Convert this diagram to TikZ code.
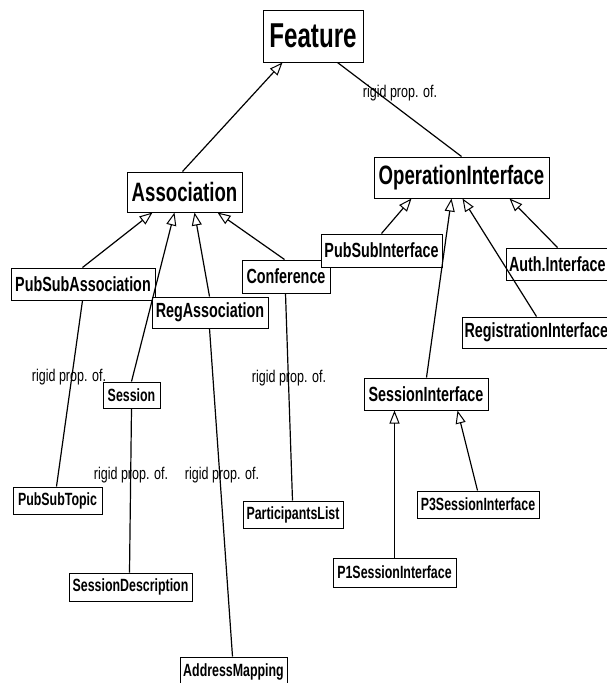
\documentclass[tikz,border=0pt]{standalone}
\usepackage{fontspec}
\setmainfont{Liberation Sans}
\newfontfamily\narrowbold{Liberation Sans}[FakeStretch=0.70]
\newfontfamily\narrowreg{Liberation Sans}[FakeStretch=0.735]
\usetikzlibrary{arrows.meta}

\tikzset{
  box/.style 2 args={draw, line width=1pt, fill=white, inner sep=0pt,
    minimum width=#1, minimum height=#2},
  hugetext/.style={font=\narrowbold\bfseries\fontsize{34.5}{40}\selectfont},
  bigtext/.style={font=\narrowbold\bfseries\fontsize{26.6}{31}\selectfont},
  midtext/.style={font=\narrowbold\bfseries\fontsize{20.5}{24}\selectfont},
  smalltext/.style={font=\narrowbold\bfseries\fontsize{17.7}{21}\selectfont},
  rolelabel/.style={font=\narrowreg\fontsize{17}{20}\selectfont, inner sep=0pt},
  isa/.style={line width=1.2pt, -{Triangle[open, length=13pt, width=10pt, line width=1pt]}},
  rigid/.style={line width=1.2pt},
}

\begin{document}
\begin{tikzpicture}[x=1pt, y=-1pt]
  \fill[white] (0,0) rectangle (607,683);
  \useasboundingbox (0,0) rectangle (607,683);

  % classes
  \node[box={100}{52}, hugetext] (feature) at (313,36) {Feature};
  \node[box={115}{40}, bigtext] (assoc) at (184.5,192) {Association};
  \node[box={175}{41}, bigtext] (opint) at (461.5,177.5) {OperationInterface};

  \node[box={144}{32}, midtext] (psa) at (83,284) {PubSubAssociation};
  \node[box={116}{31}, midtext] (reg) at (210,312.5) {RegAssociation};
  \node[box={88}{33}, midtext] (conf) at (286,276.5) {Conference};
  \node[box={121}{33}, midtext] (psi) at (381.5,250.5) {PubSubInterface};
  \node[box={103}{32}, midtext, text width=97pt, align=left] (auth) at (557.5,264) {Auth.Interface};
  \node[box={150}{31}, midtext, text width=145pt, align=left] (regint) at (537,332.5) {RegistrationInterface};
  \node[box={124}{32}, midtext] (sessint) at (426,394) {SessionInterface};

  \node[box={57}{26}, smalltext] (session) at (131.5,395) {Session};
  \node[box={89}{27}, smalltext] (pst) at (57.5,500.5) {PubSubTopic};
  \node[box={100}{27}, smalltext] (plist) at (293,514.5) {ParticipantsList};
  \node[box={123}{28}, smalltext] (sessdesc) at (130.5,587) {SessionDescription};
  \node[box={122}{27}, smalltext] (p3) at (478,504.5) {P3SessionInterface};
  \node[box={123}{29}, smalltext] (p1) at (394.5,572.5) {P1SessionInterface};
  \node[box={107}{29}, smalltext] (addr) at (233.5,671.5) {AddressMapping};

  % generalisations
  \draw[isa] ([xshift=56pt]assoc.north west) -- ([xshift=20pt]feature.south west);
  \draw[isa] ([xshift=72pt]psa.north west) -- ([xshift=26pt]assoc.south west);
  \draw[isa] ([xshift=29pt]session.north west) -- ([xshift=48pt]assoc.south west);
  \draw[isa] ([xshift=58pt]reg.north west) -- ([xshift=68pt]assoc.south west);
  \draw[isa] ([xshift=43pt]conf.north west) -- ([xshift=91pt]assoc.south west);
  \draw[isa] ([xshift=61pt]psi.north west) -- ([xshift=38pt]opint.south west);
  \draw[isa] ([xshift=63pt]sessint.north west) -- ([xshift=78pt]opint.south west);
  \draw[isa] ([xshift=75pt]regint.north west) -- ([xshift=89pt]opint.south west);
  \draw[isa] ([xshift=52pt]auth.north west) -- ([xshift=136pt]opint.south west);
  \draw[isa] ([xshift=62pt]p1.north west) -- ([xshift=31pt]sessint.south west);
  \draw[isa] ([xshift=61pt]p3.north west) -- ([xshift=94pt]sessint.south west);

  % rigid properties
  \draw[rigid] ([xshift=75pt]feature.south west) -- ([xshift=88pt]opint.north west);
  \draw[rigid] ([xshift=72pt]psa.south west) -- ([xshift=44pt]pst.north west);
  \draw[rigid] ([xshift=29pt]session.south west) -- ([xshift=61pt]sessdesc.north west);
  \draw[rigid] ([xshift=58pt]reg.south west) -- ([xshift=53pt]addr.north west);
  \draw[rigid] ([xshift=44pt]conf.south west) -- ([xshift=50pt]plist.north west);

  \node[rolelabel] (lblop) at (400,93) {rigid prop. of.};
  \node[rolelabel] (lblpst) at (69,377) {rigid prop. of.};
  \node[rolelabel] (lblsd) at (131,475) {rigid prop. of.};
  \node[rolelabel] (lbladdr) at (222,475) {rigid prop. of.};
  \node[rolelabel] (lblpl) at (289,378) {rigid prop. of.};
\end{tikzpicture}
\end{document}
